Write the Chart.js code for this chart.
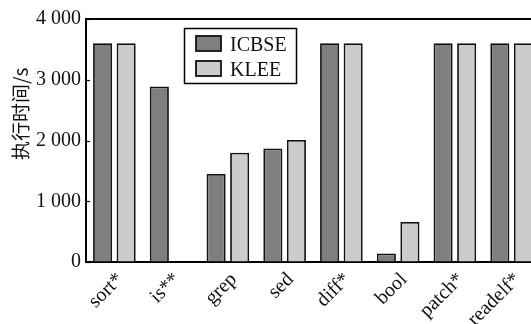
<!DOCTYPE html>
<html>
<head>
<meta charset="utf-8">
<script src="https://cdn.jsdelivr.net/npm/chart.js@4/dist/chart.umd.min.js"></script>
<style>
  html, body { margin: 0; padding: 0; background: #fff; overflow: hidden; }
  #wrap { width: 541px; height: 324px; }
</style>
</head>
<body>
<div id="wrap"><canvas id="myChart" width="541" height="324"></canvas></div>
<script>
const categories = ['sort*', 'is**', 'grep', 'sed', 'diff*', 'bool', 'patch*', 'readelf*'];
const icbse = [3600, 2890, 1450, 1870, 3600, 140, 3600, 3600];
const klee = [3600, null, 1800, 2010, 3600, 660, 3600, 3600];
const yTicks = [0, 1000, 2000, 3000, 4000];
const yTitle = '执行时间/s';

const serif = '"Liberation Serif", "DejaVu Serif", serif';

function fmt(v) {
  return String(v).replace(/\B(?=(\d{3})+(?!\d))/g, ' ');
}

// top frame line, inward y ticks, y title and the boxed legend
const extras = {
  id: 'extras',
  afterDraw(chart) {
    const ctx = chart.ctx;
    const a = chart.chartArea;
    const y = chart.scales.y;
    ctx.save();
    ctx.strokeStyle = '#000';
    ctx.lineWidth = 2;
    ctx.beginPath();
    ctx.moveTo(a.left - 1, a.top);
    ctx.lineTo(a.right + 5, a.top);
    ctx.stroke();

    ctx.lineWidth = 1.2;
    yTicks.forEach(v => {
      const py = Math.round(y.getPixelForValue(v)) + 0.5;
      ctx.beginPath();
      ctx.moveTo(a.left, py);
      ctx.lineTo(a.left + 4, py);
      ctx.stroke();
    });

    // y title, sitting a bit above the middle like the original
    ctx.save();
    ctx.translate(21, a.top + (a.bottom - a.top) * 0.39);
    ctx.rotate(-Math.PI / 2);
    ctx.font = '19px "Noto Sans CJK SC", sans-serif';
    ctx.fillStyle = '#111';
    ctx.textAlign = 'center';
    ctx.textBaseline = 'middle';
    ctx.fillText(yTitle, 0, 0);
    ctx.restore();

    // legend
    const bx = 184.5, by = 28.5, bw = 112, bh = 55;
    ctx.fillStyle = '#fff';
    ctx.fillRect(bx, by, bw, bh);
    ctx.lineWidth = 1.5;
    ctx.strokeRect(bx, by, bw, bh);
    ctx.font = '20px ' + serif;
    ctx.textBaseline = 'alphabetic';
    chart.data.datasets.forEach((ds, i) => {
      const sy = 36 + i * 25;
      ctx.fillStyle = ds.backgroundColor;
      ctx.fillRect(196, sy, 25, 15);
      ctx.lineWidth = 1.8;
      ctx.strokeStyle = '#111';
      ctx.strokeRect(196, sy, 25, 15);
      ctx.fillStyle = '#111';
      ctx.fillText(ds.label, 230, sy + 15);
    });
    ctx.restore();
  }
};

const data = {
  labels: categories,
  datasets: [
    {
      label: 'ICBSE',
      data: icbse,
      backgroundColor: '#7f7f7f',
      borderColor: '#111',
      borderWidth: 1.8
    },
    {
      label: 'KLEE',
      data: klee,
      backgroundColor: '#cccccc',
      borderColor: '#111',
      borderWidth: 1.8
    }
  ]
};

const config = {
  type: 'bar',
  data: data,
  options: {
    responsive: false,
    animation: false,
    categoryPercentage: 0.83,
    barPercentage: 0.81,
    layout: { padding: { top: 19, right: 1, left: 0, bottom: 0 } },
    plugins: {
      legend: { display: false },
      tooltip: { enabled: false }
    },
    scales: {
      x: {
        offset: true,
        grid: { display: false, drawTicks: false },
        border: { display: true, color: '#000', width: 2 },
        ticks: {
          color: '#111',
          font: { family: serif, size: 20 },
          maxRotation: 45,
          minRotation: 45,
          padding: 6,
          labelOffset: 6,
          autoSkip: false
        },
        afterFit(scale) { scale.height = 62; }
      },
      y: {
        min: 0,
        max: 4000,
        afterBuildTicks(scale) { scale.ticks = yTicks.map(v => ({ value: v })); },
        grid: { drawOnChartArea: false, drawTicks: false },
        border: { display: true, color: '#000', width: 2 },
        ticks: {
          color: '#111',
          font: { family: serif, size: 20 },
          padding: 5,
          callback: v => fmt(v)
        },
        afterFit(scale) { scale.width = 86; }
      }
    }
  },
  plugins: [extras]
};

const myChart = new Chart(document.getElementById('myChart'), config);
</script>
</body>
</html>
